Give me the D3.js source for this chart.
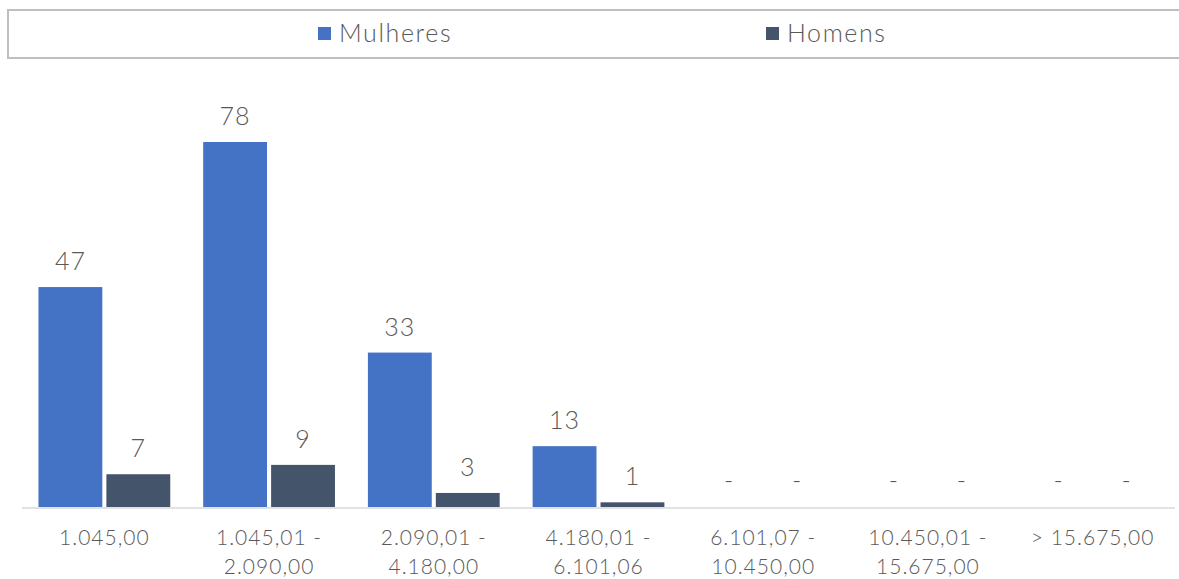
<!DOCTYPE html>
<html>
<head>
<meta charset="utf-8">
<script src="https://cdn.jsdelivr.net/npm/d3@7"></script>
<style>
  body { margin: 0; background: #fff; }
  svg { display: block; font-family: "Lato", "Open Sans", sans-serif; font-weight: 300; }
</style>
</head>
<body>
<svg id="chart" width="1179" height="579"></svg>
<script>
const categories = [
    ['1.045,00'],
    ['1.045,01 -', '2.090,00'],
    ['2.090,01 -', '4.180,00'],
    ['4.180,01 -', '6.101,06'],
    ['6.101,07 -', '10.450,00'],
    ['10.450,01 -', '15.675,00'],
    ['> 15.675,00']
];
const seriesNames = ['Mulheres', 'Homens'];
const mulheres = [47, 78, 33, 13, 0, 0, 0];
const homens = [7, 9, 3, 1, 0, 0, 0];
const colors = ['#4472C4', '#44546A'];

const svg = d3.select('#chart');
const baseline = 507;

// legend box
svg.append('rect')
    .attr('x', 8).attr('y', 10)
    .attr('width', 1180).attr('height', 48)
    .attr('fill', '#fff')
    .attr('stroke', '#bfbfbf')
    .attr('stroke-width', 2);

const legendX = [318, 766];
seriesNames.forEach((name, i) => {
    svg.append('rect')
        .attr('x', legendX[i]).attr('y', 27)
        .attr('width', 13).attr('height', 13)
        .attr('fill', colors[i]);
    svg.append('text')
        .attr('x', legendX[i] + 21).attr('y', 42)
        .attr('font-size', 25)
        .attr('letter-spacing', 1.6)
        .attr('fill', '#595959')
        .text(name);
});

const idx = d3.range(categories.length);
const x0 = d3.scaleBand()
    .domain(idx)
    .range([22, 1175])
    .paddingInner(0.2)
    .paddingOuter(0.1);

const x1 = d3.scaleBand()
    .domain(seriesNames)
    .range([0, x0.bandwidth()])
    .paddingInner(0.06);

const y = d3.scaleLinear()
    .domain([0, 78])
    .range([baseline, 142]);

const data = idx.map(i => ({ i, values: [mulheres[i], homens[i]] }));

const groups = svg.append('g')
    .selectAll('g')
    .data(data)
    .enter().append('g')
    .attr('transform', d => `translate(${x0(d.i)},0)`);

groups.selectAll('rect')
    .data(d => d.values.map((v, s) => ({ v, s })))
    .enter().append('rect')
    .attr('x', d => x1(seriesNames[d.s]))
    .attr('y', d => y(d.v))
    .attr('width', x1.bandwidth())
    .attr('height', d => baseline - y(d.v))
    .attr('fill', d => colors[d.s]);

groups.selectAll('text.val')
    .data(d => d.values.map((v, s) => ({ v, s })))
    .enter().append('text')
    .attr('class', 'val')
    .attr('x', d => x1(seriesNames[d.s]) + x1.bandwidth() / 2)
    .attr('y', d => d.v === 0 ? baseline - 18 : y(d.v) - 17)
    .attr('text-anchor', 'middle')
    .attr('font-size', 25)
    .attr('letter-spacing', 1)
    .attr('fill', '#595959')
    .text(d => d.v === 0 ? '-' : d.v);

// axis line
svg.append('line')
    .attr('x1', 22).attr('x2', 1175)
    .attr('y1', baseline + 1).attr('y2', baseline + 1)
    .attr('stroke', '#d9d9d9')
    .attr('stroke-width', 1.5);

// category labels
const labels = svg.append('g')
    .selectAll('text')
    .data(idx)
    .enter().append('text')
    .attr('x', i => x0(i) + x0.bandwidth() / 2)
    .attr('y', 545)
    .attr('text-anchor', 'middle')
    .attr('font-size', 21)
    .attr('letter-spacing', 1)
    .attr('fill', '#595959');

labels.selectAll('tspan')
    .data(i => categories[i])
    .enter().append('tspan')
    .attr('x', function () { return d3.select(this.parentNode).attr('x'); })
    .attr('dy', (d, k) => k === 0 ? 0 : 29)
    .text(d => d);
</script>
</body>
</html>
